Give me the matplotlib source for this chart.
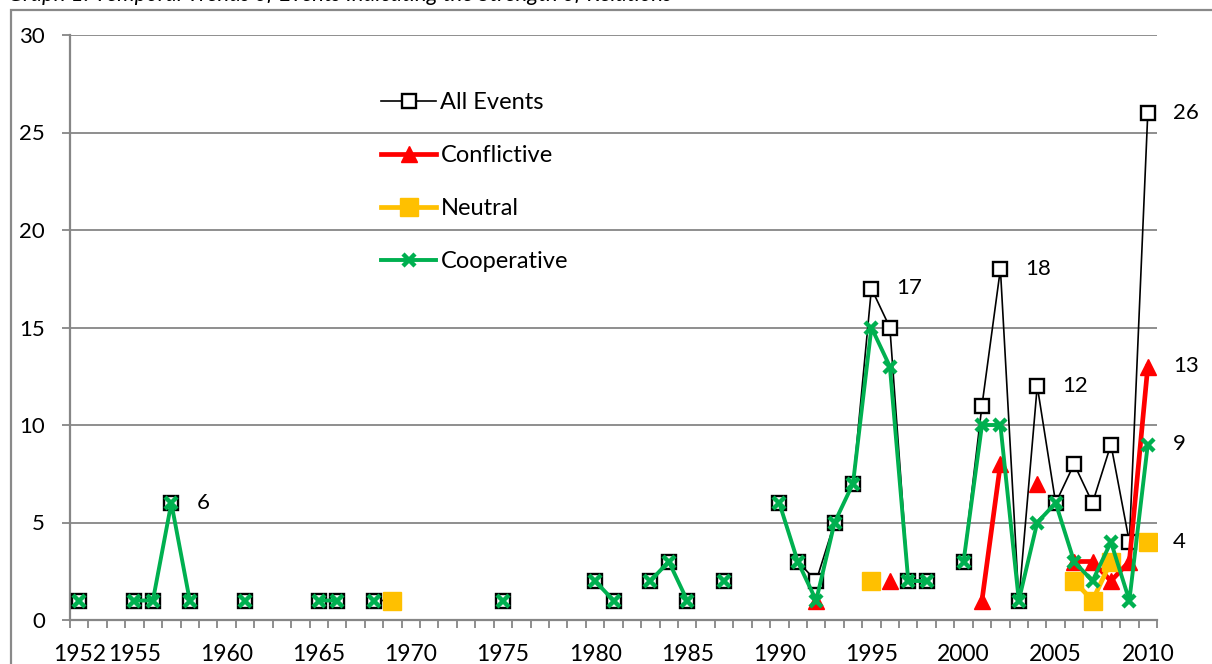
import numpy as np
import matplotlib
matplotlib.use("Agg")
import matplotlib.pyplot as plt
from matplotlib.patches import Rectangle

plt.rcParams["font.family"] = ["Lato", "DejaVu Sans"]

# ---- data ----
years = list(range(1952, 2011))
all_yrs  = [1952, 1955, 1956, 1957, 1958, 1961, 1965, 1966, 1968, 1969, 1975, 1980, 1981,
            1983, 1984, 1985, 1987, 1990, 1991, 1992, 1993, 1994, 1995, 1996, 1997, 1998,
            2000, 2001, 2002, 2003, 2004, 2005, 2006, 2007, 2008, 2009, 2010]
all_vals = [1, 1, 1, 6, 1, 1, 1, 1, 1, 1, 1, 2, 1,
            2, 3, 1, 2, 6, 3, 2, 5, 7, 17, 15, 2, 2,
            3, 11, 18, 1, 12, 6, 8, 6, 9, 4, 26]
conf_yrs  = [1992, 1996, 2001, 2002, 2004, 2006, 2007, 2008, 2009, 2010]
conf_vals = [1, 2, 1, 8, 7, 3, 3, 2, 3, 13]
neut_yrs  = [1969, 1995, 2006, 2007, 2008, 2010]
neut_vals = [1, 2, 2, 1, 3, 4]
coop_yrs  = [1952, 1955, 1956, 1957, 1958, 1961, 1965, 1966, 1968, 1975, 1980, 1981,
             1983, 1984, 1985, 1987, 1990, 1991, 1992, 1993, 1994, 1995, 1996, 1997, 1998,
             2000, 2001, 2002, 2003, 2004, 2005, 2006, 2007, 2008, 2009, 2010]
coop_vals = [1, 1, 1, 6, 1, 1, 1, 1, 1, 1, 2, 1,
             2, 3, 1, 2, 6, 3, 1, 5, 7, 15, 13, 2, 2,
             3, 10, 10, 1, 5, 6, 3, 2, 4, 1, 9]
xlabels = [1952, 1955, 1960, 1965, 1970, 1975, 1980, 1985, 1990, 1995, 2000, 2005, 2010]
labelled_all = [1957, 1995, 2002, 2004, 2010]


def on_grid(yrs, vals):
    """spread onto the full year range, NaN = no events (line breaks like Excel)"""
    d = dict(zip(yrs, vals))
    return np.array([d.get(y, np.nan) for y in years], dtype=float)


GRID = "#868686"
fig = plt.figure(figsize=(12.12, 6.64), dpi=100)
W, H = 1212, 664
ax = fig.add_axes([70 / W, 44 / H, (1157 - 70) / W, (620 - 35) / H])

# chart-area border (cropped at right/bottom in the reference)
fig.patches.append(Rectangle((11 / W, -0.1), 1.2, 1 - 10 / H + 0.1, transform=fig.transFigure,
                             fill=False, ec="#898989", lw=1.6))
# title sits mostly above the crop, only its lowest strokes show
fig.text(8 / W, 1 - 1 / H, "Graph 1: Temporal Trends of Events Indicating the Strength of Relations",
         style="italic", fontsize=16, va="baseline", ha="left")

ax.plot(years, on_grid(all_yrs, all_vals), color="black", lw=1.2, marker="s", ms=9.5,
        mfc="white", mec="black", mew=1.7, label="All Events", zorder=3)
ax.plot(years, on_grid(conf_yrs, conf_vals), color="#FF0000", lw=3.4, marker="^", ms=12,
        mfc="#FF0000", mec="#FF0000", label="Conflictive", zorder=4)
ax.plot(years, on_grid(neut_yrs, neut_vals), color="#FFC000", lw=3.4, marker="s", ms=12.5,
        mfc="#FFC000", mec="#FFC000", label="Neutral", zorder=5)
ax.plot(years, on_grid(coop_yrs, coop_vals), color="#00B050", lw=2.8, marker="x", ms=8,
        mew=3.2, mec="#00B050", label="Cooperative", zorder=6)

# value labels
lab = dict(fontsize=16, ha="left", va="center", textcoords="offset points", xytext=(18, 0))
for y, v in zip(all_yrs, all_vals):
    if y in labelled_all:
        ax.annotate(str(v), (y, v), **lab)
ax.annotate(str(conf_vals[-1]), (conf_yrs[-1], conf_vals[-1]), **lab)
ax.annotate(str(coop_vals[-1]), (coop_yrs[-1], coop_vals[-1]), **lab)
ax.annotate(str(neut_vals[-1]), (neut_yrs[-1], neut_vals[-1]), **lab)

ax.set_xlim(1951.5, 2010.5)
ax.set_ylim(0, 30)
ax.set_yticks(range(0, 31, 5))
ax.yaxis.grid(True, color=GRID, lw=1.3)
ax.set_axisbelow(True)
ax.set_xticks(xlabels)
ax.set_xticks(np.arange(1951.5, 2011, 1.0), minor=True)
ax.tick_params(axis="x", which="major", length=0, pad=17, labelsize=16.5)
ax.tick_params(axis="x", which="minor", length=6, width=1.3, color=GRID, direction="out")
ax.tick_params(axis="y", length=6, width=1.3, color=GRID, pad=12, labelsize=16)
for sp in ("top", "right"):
    ax.spines[sp].set_visible(False)
for sp in ("left", "bottom"):
    ax.spines[sp].set_color(GRID); ax.spines[sp].set_linewidth(1.6)

ax.legend(loc="upper left", bbox_to_anchor=(381 / W, 1 - 92 / H), bbox_transform=fig.transFigure,
          frameon=False, fontsize=17, labelspacing=1.36, handlelength=2.35, handletextpad=0.17,
          borderpad=0, borderaxespad=0)

fig.savefig("out.png", dpi=100)
